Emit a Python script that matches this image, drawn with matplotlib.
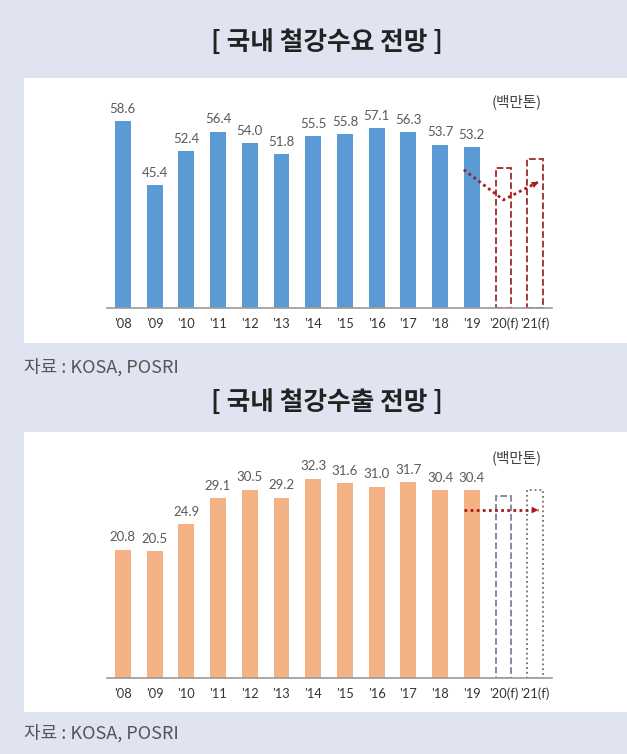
import matplotlib
matplotlib.use("Agg")
import matplotlib.pyplot as plt
from matplotlib.patches import Rectangle

plt.rcParams['font.family'] = ['Noto Sans CJK KR', 'DejaVu Sans']

years = ["'08", "'09", "'10", "'11", "'12", "'13", "'14", "'15", "'16", "'17", "'18", "'19", "'20(f)", "'21(f)"]
demand = [58.6, 45.4, 52.4, 56.4, 54.0, 51.8, 55.5, 55.8, 57.1, 56.3, 53.7, 53.2]
demand_fc = [48.9, 50.7]
export = [20.8, 20.5, 24.9, 29.1, 30.5, 29.2, 32.3, 31.6, 31.0, 31.7, 30.4, 30.4]
export_fc = [29.5, 30.5]
# dotted trend arrows (x in bar index, y in chart units)
demand_trend_x = [10.75, 12.0, 13.1]
demand_trend_y = [48.5, 42.3, 46.0]
export_trend_x = [10.75, 13.1]
export_trend_y = [27.2, 27.2]

bg = "#dfe4f0"
W, H = 627, 754

fig = plt.figure(figsize=(W / 100, H / 100), dpi=100, facecolor=bg)

def px_box(x0, y0, x1, y1):
    # pixel box (from top-left) -> figure fractions
    return [x0 / W, 1 - y1 / H, (x1 - x0) / W, (y1 - y0) / H]

# white panels
for y0, y1 in [(78, 343), (432, 712)]:
    l, b, w, h = px_box(24, y0, 627, y1)
    fig.patches.append(Rectangle((l, b), w, h, transform=fig.transFigure,
                                 facecolor="white", edgecolor="none", zorder=-1))


def draw_chart(rect, vals, fc_vals, color, ylim, fc_color, fc_styles, tx, ty):
    ax = fig.add_axes(px_box(*rect))
    ax.set_facecolor("none")
    xs = list(range(len(vals)))
    ax.bar(xs, vals, width=0.5, color=color, zorder=2)
    for x, v in zip(xs, vals):
        ax.annotate(f"{v:.1f}", (x, v), xytext=(0, 4.5), textcoords="offset points",
                    ha="center", va="bottom", fontsize=9.5, color="#595959",
                    family=["Lato"])
    for k, v in enumerate(fc_vals):
        ax.bar(len(vals) + k, v - ylim[0], bottom=ylim[0], width=0.5, fill=False,
               edgecolor=fc_color[k], linestyle=fc_styles[k], linewidth=1.3, zorder=2)
    ax.plot(tx, ty, color="#a51c1c", linestyle=(0, (1, 1.2)), linewidth=2, zorder=3)
    ax.annotate("", xy=(tx[-1], ty[-1]), xytext=(tx[-2], ty[-2]),
                arrowprops=dict(arrowstyle="-|>", color="#a51c1c", lw=0, mutation_scale=12,
                                shrinkA=0, shrinkB=0), zorder=3)
    ax.set_xlim(-0.5, 13.53)
    ax.set_ylim(*ylim)
    ax.set_xticks(range(len(years)))
    ax.set_xticklabels(years, family=["Lato"], fontsize=9.3, color="#333333")
    ax.tick_params(axis="x", length=0, pad=7)
    ax.set_yticks([])
    for s in ["top", "right", "left"]:
        ax.spines[s].set_visible(False)
    ax.spines["bottom"].set_color("#9a9a9a")
    ax.spines["bottom"].set_linewidth(1.2)
    return ax


draw_chart((107, 100, 552, 308), demand, demand_fc, "#5b9bd5", (20, 62.9),
           ["#9e2a2b", "#9e2a2b"], ["--", "--"], demand_trend_x, demand_trend_y)
draw_chart((107, 460, 552, 678), export, export_fc, "#f4b183", (0, 35.3),
           ["#7a8499", "#707070"], ["--", ":"], export_trend_x, export_trend_y)

# titles, units, sources
fig.text(0.522, 1 - 42 / H, "[ 국내 철강수요 전망 ]", ha="center", va="center",
         fontsize=18.5, fontweight="bold", color="#222222")
fig.text(0.522, 1 - 402 / H, "[ 국내 철강수출 전망 ]", ha="center", va="center",
         fontsize=18.5, fontweight="bold", color="#222222")
fig.text(517 / W, 1 - 102 / H, "(백만톤)", ha="center", va="center", fontsize=10.5, color="#404040")
fig.text(517 / W, 1 - 458 / H, "(백만톤)", ha="center", va="center", fontsize=10.5, color="#404040")
fig.text(24 / W, 1 - 367 / H, "자료 : KOSA, POSRI", ha="left", va="center", fontsize=13, color="#555555")
fig.text(24 / W, 1 - 733 / H, "자료 : KOSA, POSRI", ha="left", va="center", fontsize=13, color="#555555")

fig.savefig("out.png", dpi=100, facecolor=bg)
